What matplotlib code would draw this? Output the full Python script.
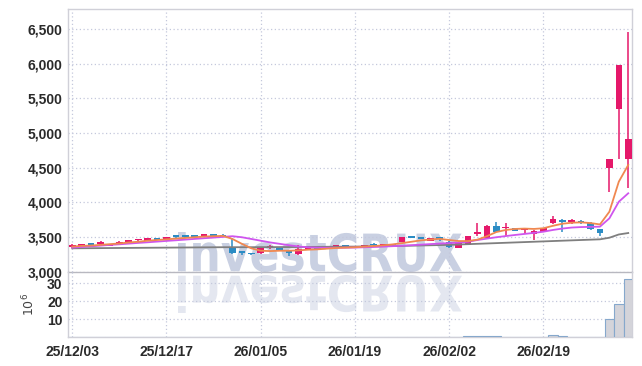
import numpy as np
import matplotlib.pyplot as plt
import matplotlib.transforms as mtransforms
from matplotlib.textpath import TextPath
from matplotlib.patches import PathPatch
from matplotlib.font_manager import FontProperties

plt.rcParams['font.family'] = ['Liberation Sans', 'DejaVu Sans']

# daily candles (index based x axis)
tick_pos = [0, 10, 20, 30, 40, 50]
tick_labels = ['25/12/03', '25/12/17', '26/01/05', '26/01/19', '26/02/02', '26/02/19']

opens = [3350, 3370, 3393, 3395, 3375, 3397, 3418, 3450, 3440, 3480,
         3458, 3505, 3503, 3527, 3505, 3535, 3530, 3355, 3275, 3252,
         3265, 3350, 3340, 3270, 3252, 3325, 3354, 3325, 3354, 3358,
         3350, 3354, 3400, 3378, 3385, 3426, 3500, 3500, 3440, 3475,
         3430, 3345, 3383, 3545, 3480, 3662, 3625, 3628, 3595, 3537,
         3575, 3696, 3744, 3715, 3730, 3696, 3610, 4500, 5344, 4630]
highs = [3400, 3400, 3398, 3435, 3400, 3435, 3460, 3475, 3485, 3485,
         3505, 3515, 3515, 3532, 3540, 3540, 3540, 3480, 3285, 3262,
         3345, 3390, 3345, 3300, 3385, 3360, 3360, 3372, 3388, 3370,
         3360, 3388, 3405, 3392, 3395, 3500, 3510, 3505, 3490, 3490,
         3440, 3415, 3520, 3697, 3665, 3720, 3697, 3630, 3630, 3600,
         3630, 3800, 3760, 3760, 3745, 3720, 3615, 4630, 5990, 6465]
lows = [3340, 3365, 3385, 3390, 3370, 3395, 3415, 3445, 3438, 3455,
        3455, 3490, 3490, 3500, 3500, 3508, 3500, 3260, 3245, 3232,
        3255, 3330, 3300, 3225, 3245, 3320, 3325, 3320, 3350, 3345,
        3345, 3350, 3375, 3375, 3375, 3420, 3480, 3465, 3435, 3440,
        3340, 3340, 3380, 3510, 3475, 3570, 3510, 3580, 3545, 3455,
        3570, 3690, 3575, 3690, 3690, 3605, 3513, 4153, 4621, 4202]
closes = [3390, 3395, 3390, 3430, 3395, 3430, 3455, 3458, 3480, 3462,
          3500, 3502, 3500, 3505, 3535, 3512, 3505, 3265, 3268, 3248,
          3340, 3356, 3310, 3265, 3325, 3354, 3330, 3368, 3383, 3354,
          3356, 3383, 3380, 3385, 3380, 3498, 3483, 3470, 3483, 3468,
          3350, 3412, 3513, 3555, 3657, 3575, 3638, 3585, 3605, 3585,
          3624, 3754, 3711, 3722, 3696, 3610, 3552, 4625, 5984, 4910]

ma_short = [3360, 3370, 3375, 3385, 3395, 3405, 3420, 3430, 3445, 3455,
            3465, 3475, 3485, 3495, 3505, 3510, 3515, 3470, 3400, 3335,
            3300, 3295, 3300, 3300, 3305, 3315, 3320, 3330, 3340, 3345,
            3350, 3360, 3368, 3378, 3392, 3410, 3430, 3450, 3462, 3472,
            3455, 3440, 3440, 3460, 3510, 3570, 3600, 3615, 3620, 3615,
            3625, 3660, 3690, 3705, 3710, 3700, 3680, 3864, 4298, 4539]
ma_mid = [3345, 3355, 3364, 3374, 3384, 3393, 3403, 3413, 3422, 3432,
          3442, 3451, 3461, 3471, 3481, 3490, 3500, 3510, 3495, 3470,
          3445, 3420, 3400, 3380, 3362, 3350, 3345, 3343, 3343, 3344,
          3346, 3350, 3355, 3360, 3366, 3372, 3380, 3388, 3396, 3404,
          3410, 3418, 3430, 3455, 3475, 3495, 3512, 3528, 3543, 3558,
          3575, 3600, 3620, 3635, 3642, 3645, 3648, 3768, 4008, 4130]
ma_long = [3335, 3336, 3337, 3338, 3339, 3340, 3341, 3342, 3343, 3344,
           3345, 3346, 3347, 3348, 3349, 3350, 3351, 3351, 3351, 3351,
           3352, 3352, 3353, 3353, 3354, 3355, 3356, 3357, 3358, 3359,
           3360, 3362, 3364, 3366, 3368, 3370, 3373, 3376, 3379, 3382,
           3385, 3390, 3395, 3400, 3405, 3410, 3415, 3420, 3425, 3430,
           3435, 3440, 3445, 3450, 3455, 3460, 3465, 3488, 3535, 3556]

# volume in millions of shares
volume = [0.05] * 42 + [0.4, 0.4, 0.4, 0.4, 0.1, 0.1, 0.1, 0.1, 0.1,
                        1.0, 0.5, 0.1, 0.1, 0.1, 0.1, 10.0, 18.5, 32.5]

RED = '#e5186a'
BLUE = '#2b8cc4'
GRID = '#c4c8dc'
SPINE = '#d0d0d8'

W, H = 642, 366
fig = plt.figure(figsize=(W / 100, H / 100), dpi=100, facecolor='white')
ax = fig.add_axes([68 / W, 1 - 271.5 / H, 564 / W, 262.5 / H], facecolor='none')
axv = fig.add_axes([68 / W, 1 - 337 / H, 564 / W, 65.5 / H], facecolor='none', sharex=ax)

x = np.arange(len(opens))
o = np.array(opens, float)
c = np.array(closes, float)
cols = np.where(c >= o, RED, BLUE)
ax.vlines(x, lows, highs, colors=cols, linewidth=1.1, zorder=3)
bottom = np.minimum(o, c)
height = np.maximum(np.abs(c - o), 24)
ax.bar(x, height, bottom=bottom, width=0.7, color=cols, zorder=3)

ax.plot(x, ma_long, color='#7f7f7f', lw=1.3, zorder=4)
ax.plot(x, ma_mid, color='#cf55ee', lw=1.3, zorder=4)
ax.plot(x, ma_short, color='#f08850', lw=1.3, zorder=4)

ax.set_xlim(-0.45, 59.4)
ax.set_ylim(3000, 6793)
ax.set_yticks(range(3000, 7000, 500))
ax.set_yticklabels(['{:,}'.format(v) for v in range(3000, 7000, 500)])

axv.bar(x, volume, width=1.0, color='#d4d4da', edgecolor='#86a8cc', linewidth=0.8, zorder=3)
axv.set_ylim(0, 36.5)
axv.set_yticks([10, 20, 30])
axv.set_xticks(tick_pos)
axv.set_xticklabels(tick_labels)
axv.set_ylabel(r'$10^6$', fontsize=9, family='DejaVu Sans', color='#444444', labelpad=7)

for a in (ax, axv):
    a.grid(True, color=GRID, linestyle=(0, (1, 2)), linewidth=0.9)
    a.set_axisbelow(True)
    a.tick_params(length=0, labelsize=10, colors='#2a2a2a', pad=4)
    for lab in a.get_xticklabels() + a.get_yticklabels():
        lab.set_fontweight('bold')
    for s in a.spines.values():
        s.set_color(SPINE)
        s.set_linewidth(1.0)
ax.tick_params(labelbottom=False)
ax.spines['bottom'].set_color('#b8b8c0')
axv.spines['top'].set_visible(False)
axv.tick_params(axis='x', pad=6)


# watermark with its mirror image, placed in pixel coordinates
def watermark(x0, x1, ytop, ybot, color, flip):
    fp = FontProperties(family='DejaVu Sans', weight='bold')
    tp = TextPath((0, 0), 'investCRUX', size=100, prop=fp)
    ext = tp.get_extents()
    sx = (x1 - x0) / ext.width
    sy = (ybot - ytop) / ext.height
    if flip:
        tr = mtransforms.Affine2D().translate(-ext.x0, -ext.y0).scale(sx, -sy).translate(x0, H - ytop)
    else:
        tr = mtransforms.Affine2D().translate(-ext.x0, -ext.y0).scale(sx, sy).translate(x0, H - ybot)
    path = tr.transform_path(tp)
    patch = PathPatch(path, facecolor=color, edgecolor='none', zorder=-1,
                      transform=mtransforms.Affine2D().scale(1 / 100) + fig.dpi_scale_trans)
    fig.add_artist(patch)


watermark(178, 462, 232, 272, '#c9d0e2', False)
watermark(178, 462, 275, 313, '#e4e7f0', True)

fig.savefig('out.png', dpi=100, facecolor='white')
